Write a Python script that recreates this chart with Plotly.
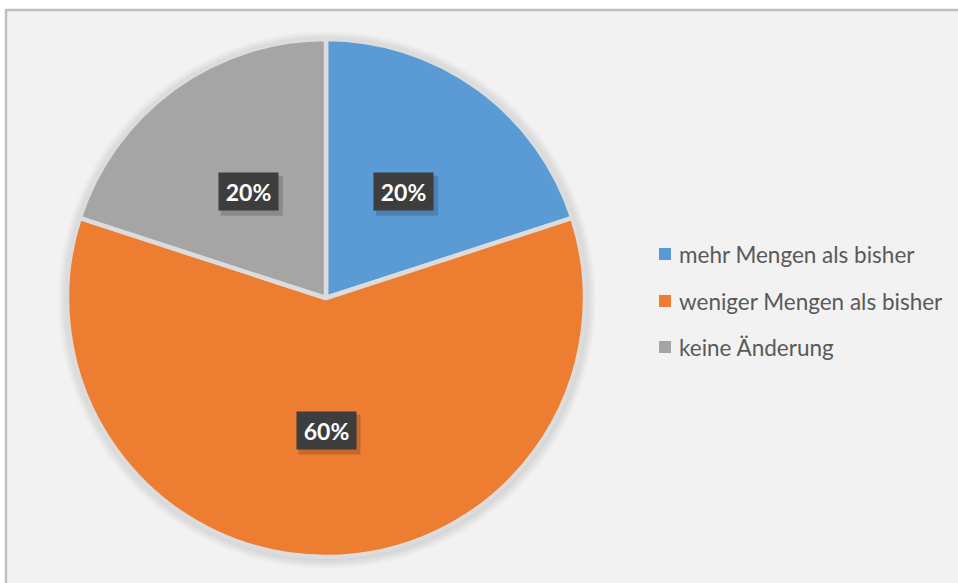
import math
import plotly.graph_objects as go

# Survey answers and their shares
categories = ["mehr Mengen als bisher", "weniger Mengen als bisher", "keine Änderung"]
values = [20, 60, 20]
colors = ["#5b9bd5", "#ed7d31", "#a5a5a5"]

W, H = 958, 583
CX, CY, R = 326, 298, 259          # pie centre and radius in pixels
LABEL_R = 0.51                     # label distance as fraction of radius

fig = go.Figure()

# invisible pixel-space axes used for placing decorations
fig.add_trace(go.Scatter(x=[], y=[], hoverinfo="skip", showlegend=False))

fig.add_trace(go.Pie(
    labels=categories,
    values=values,
    marker=dict(colors=colors, line=dict(color="#dcdcdc", width=4.5)),
    sort=False,
    direction="clockwise",
    rotation=0,
    textinfo="none",
    hoverinfo="label+percent",
    showlegend=False,
    domain=dict(x=[(CX - R) / W, (CX + R) / W],
                y=[1 - (CY + R) / H, 1 - (CY - R) / H]),
))

shapes = []
# white margin left of and above the chart area, then its border
shapes.append(dict(type="rect", xref="x", yref="y", x0=-5, x1=5, y0=-5, y1=H + 5,
                   fillcolor="white", line=dict(width=0), layer="below"))
shapes.append(dict(type="rect", xref="x", yref="y", x0=-5, x1=W + 5, y0=-5, y1=9,
                   fillcolor="white", line=dict(width=0), layer="below"))
shapes.append(dict(type="line", xref="x", yref="y", x0=6, x1=6, y0=9, y1=H + 5,
                   line=dict(color="#c0c0c0", width=2.5), layer="below"))
shapes.append(dict(type="line", xref="x", yref="y", x0=5, x1=W + 5, y0=10, y1=10,
                   line=dict(color="#c0c0c0", width=2.5), layer="below"))
# soft shadow under the pie
for i in range(10, 0, -1):
    shapes.append(dict(type="circle", xref="x", yref="y",
                       x0=CX + 1 - R - i, x1=CX + 1 + R + i,
                       y0=CY + 2 - R - i, y1=CY + 2 + R + i,
                       fillcolor="rgba(0,0,0,0.012)", line=dict(width=0), layer="below"))

annotations = []
total = sum(values)
cum = 0
for v in values:
    mid = 2 * math.pi * (cum + v / 2) / total
    cum += v
    lx = CX + LABEL_R * R * math.sin(mid)
    ly = CY - LABEL_R * R * math.cos(mid)
    bw, bh = 61, 39
    # drop shadow of the label box
    shapes.append(dict(type="rect", xref="x", yref="y",
                       x0=lx - bw / 2 + 3, x1=lx + bw / 2 + 4,
                       y0=ly - bh / 2 + 4, y1=ly + bh / 2 + 5,
                       fillcolor="rgba(0,0,0,0.16)", line=dict(width=0), layer="above"))
    annotations.append(dict(
        x=lx, y=ly, xref="x", yref="y", showarrow=False,
        text=f"<b>{round(100 * v / total)}%</b>",
        font=dict(family="Lato", size=23, color="white"),
        bgcolor="#3d3d3d", width=bw - 2, height=bh - 2, borderpad=0,
        xanchor="center", yanchor="middle", align="center", valign="middle",
    ))

# legend drawn as squares and text
legend_x = 665
legend_rows = [254, 301, 347]
for name, col, ry in zip(categories, colors, legend_rows):
    shapes.append(dict(type="rect", xref="x", yref="y",
                       x0=legend_x - 6, x1=legend_x + 6, y0=ry - 6, y1=ry + 6,
                       fillcolor=col, line=dict(width=0), layer="above"))
    annotations.append(dict(
        x=legend_x + 12, y=ry, xref="x", yref="y", showarrow=False,
        text=name, xanchor="left", yanchor="middle",
        font=dict(family="Lato", size=22.5, color="#595959"),
    ))

fig.update_layout(
    width=W, height=H,
    margin=dict(l=0, r=0, t=0, b=0),
    paper_bgcolor="#f2f2f2",
    plot_bgcolor="rgba(0,0,0,0)",
    xaxis=dict(range=[0, W], visible=False, domain=[0, 1], fixedrange=True),
    yaxis=dict(range=[H, 0], visible=False, domain=[0, 1], fixedrange=True),
    shapes=shapes,
    annotations=annotations,
    showlegend=False,
)

# keep the page from scrolling so no scrollbar is drawn over the chart
fig.write_html(
    "out.html",
    config={"displayModeBar": False},
    post_script="document.documentElement.style.overflow='hidden';"
                "document.body.style.overflow='hidden';document.body.style.margin='0';",
)
